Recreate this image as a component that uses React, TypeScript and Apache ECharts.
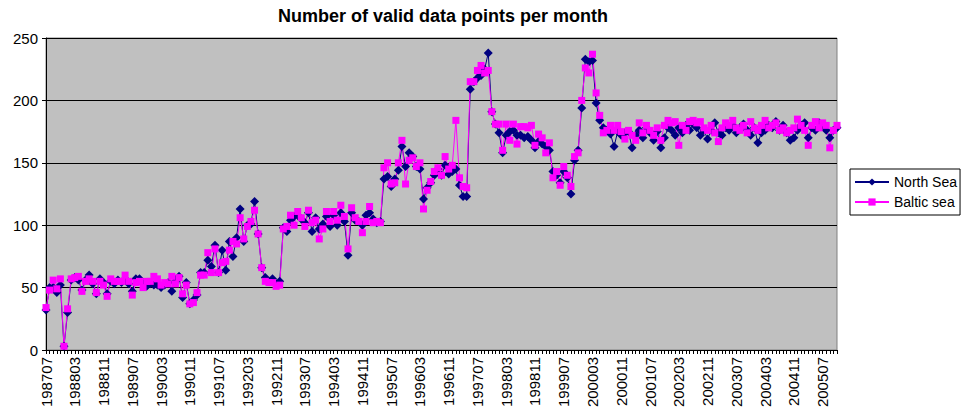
import React, { useEffect, useRef } from "react";
import * as echarts from "echarts";

const TITLE = "Number of valid data points per month";
const SERIES_NAMES = ["North Sea", "Baltic sea"];
const START_YEAR = 1987;
const START_MONTH = 7;
const MONTH_COUNT = 221;

const northSea: number[] = [
  32, 50, 50, 46, 52, 3, 30, 56, 58, 56,
  48, 56, 60, 53, 45, 57, 54, 45, 55, 53,
  56, 54, 57, 53, 47, 57, 57, 53, 51, 53,
  52, 52, 50, 52, 54, 47, 55, 59, 42, 54,
  37, 40, 44, 62, 62, 72, 67, 84, 62, 80,
  64, 87, 75, 90, 113, 87, 100, 101, 119, 93,
  66, 58, 55, 57, 53, 55, 98, 95, 104, 107,
  108, 105, 102, 110, 95, 106, 97, 101, 107, 99,
  108, 100, 110, 103, 76, 110, 104, 103, 100, 108,
  110, 105, 102, 103, 137, 139, 131, 137, 144, 163,
  147, 158, 155, 147, 145, 121, 130, 134, 140, 145,
  140, 148, 141, 143, 145, 132, 123, 123, 209, 215,
  218, 220, 225, 238, 191, 181, 174, 158, 172, 175,
  176, 172, 172, 170, 171, 168, 162, 167, 165, 163,
  160, 143, 140, 134, 143, 138, 125, 152, 160, 194,
  233, 231, 232, 198, 184, 178, 176, 173, 163, 175,
  172, 174, 175, 162, 172, 176, 170, 178, 174, 168,
  175, 162, 170, 178, 176, 172, 178, 174, 180, 176,
  181, 178, 172, 176, 169, 176, 182, 174, 172, 178,
  176, 180, 174, 178, 181, 176, 172, 178, 166, 174,
  176, 180, 178, 183, 176, 180, 174, 168, 170, 176,
  180, 182, 170, 178, 176, 182, 180, 176, 170, 176,
  178,
];

const balticSea: number[] = [
  34, 48, 56, 49, 57, 3, 33, 57, 58, 59,
  47, 55, 57, 55, 46, 55, 52, 43, 57, 55,
  55, 55, 60, 55, 44, 54, 55, 50, 55, 55,
  59, 57, 52, 54, 53, 59, 53, 58, 45, 52,
  37, 38, 46, 60, 60, 78, 62, 81, 62, 70,
  71, 80, 87, 85, 106, 89, 99, 103, 112, 93,
  66, 55, 54, 54, 51, 52, 97, 99, 108, 100,
  111, 106, 99, 112, 102, 104, 89, 97, 111, 103,
  111, 104, 116, 107, 81, 114, 106, 103, 94, 103,
  115, 102, 103, 102, 146, 150, 133, 134, 150, 168,
  133, 152, 154, 147, 150, 113, 128, 135, 143, 146,
  140, 155, 145, 148, 184, 138, 131, 130, 215, 215,
  224, 228, 222, 224, 191, 181, 181, 160, 181, 168,
  181, 165, 179, 179, 178, 180, 164, 173, 170, 158,
  166, 138, 143, 132, 147, 140, 131, 155, 158, 200,
  226, 222, 237, 206, 188, 174, 176, 180, 176, 180,
  175, 169, 176, 172, 168, 182, 174, 180, 176, 172,
  178, 168, 180, 184, 182, 183, 164, 180, 176, 183,
  184, 182, 183, 178, 176, 180, 174, 167, 178, 182,
  180, 184, 178, 176, 180, 174, 183, 178, 176, 180,
  184, 178, 180, 182, 176, 178, 174, 176, 178, 185,
  180, 176, 164, 180, 183, 178, 182, 180, 162, 176,
  180,
];

const yTicks = { min: 0, max: 250, interval: 50 };

function buildMonths(): string[] {
  const out: string[] = [];
  let y = START_YEAR;
  let m = START_MONTH;
  for (let i = 0; i < MONTH_COUNT; i++) {
    out.push(`${y}${m < 10 ? "0" + m : m}`);
    m++;
    if (m > 12) {
      m = 1;
      y++;
    }
  }
  return out;
}

const months = buildMonths();

export default function App() {
  const ref = useRef<HTMLDivElement>(null);
  useEffect(() => {
    if (!ref.current) return;
    const chart = echarts.init(ref.current, undefined, { renderer: "svg" });
    const font = "Arial, 'Liberation Sans', sans-serif";
    chart.setOption({
      animation: false,
      backgroundColor: "#ffffff",
      textStyle: { fontFamily: font },
      graphic: [
        {
          type: "text",
          x: 443,
          y: 7,
          style: {
            text: TITLE,
            font: `bold 18px ${font}`,
            fill: "#000",
            align: "center",
            verticalAlign: "top",
          },
        },
      ],
      legend: {
        orient: "vertical",
        left: 850,
        top: 169,
        padding: [6, 3, 6, 4],
        itemGap: 6,
        itemWidth: 34,
        itemHeight: 9,
        backgroundColor: "#ffffff",
        borderColor: "#000000",
        borderWidth: 1,
        borderRadius: 0,
        textStyle: { fontSize: 14, color: "#000", fontFamily: font },
        data: SERIES_NAMES,
      },
      grid: {
        left: 46,
        top: 38,
        width: 791,
        height: 312,
        show: true,
        backgroundColor: "#c0c0c0",
        borderColor: "#808080",
        borderWidth: 1,
      },
      xAxis: {
        type: "category",
        data: months,
        boundaryGap: false,
        axisLine: { lineStyle: { color: "#000", width: 1 } },
        axisTick: {
          show: true,
          interval: 0,
          length: 4,
          lineStyle: { color: "#000" },
        },
        axisLabel: {
          interval: 7,
          rotate: 90,
          fontSize: 15,
          color: "#000",
          margin: 7,
          fontFamily: font,
        },
        splitLine: { show: false },
      },
      yAxis: {
        type: "value",
        min: yTicks.min,
        max: yTicks.max,
        interval: yTicks.interval,
        axisLine: { show: true, lineStyle: { color: "#000", width: 1 } },
        axisTick: { show: true, length: 4, lineStyle: { color: "#000" } },
        axisLabel: { fontSize: 15, color: "#000", margin: 8, fontFamily: font },
        splitLine: { show: true, lineStyle: { color: "#000", width: 1 } },
      },
      series: [
        {
          name: SERIES_NAMES[0],
          type: "line",
          data: northSea,
          symbol: "diamond",
          symbolSize: 9,
          showAllSymbol: true,
          lineStyle: { color: "#000080", width: 1 },
          itemStyle: { color: "#000080" },
          emphasis: { disabled: true },
        },
        {
          name: SERIES_NAMES[1],
          type: "line",
          data: balticSea,
          symbol: "rect",
          symbolSize: 7,
          showAllSymbol: true,
          lineStyle: { color: "#ff00ff", width: 1 },
          itemStyle: { color: "#ff00ff" },
          emphasis: { disabled: true },
        },
      ],
    });
    return () => chart.dispose();
  }, []);
  return (
    <div
      ref={ref}
      style={{ position: "fixed", left: 0, top: 0, width: 964, height: 415 }}
    />
  );
}
